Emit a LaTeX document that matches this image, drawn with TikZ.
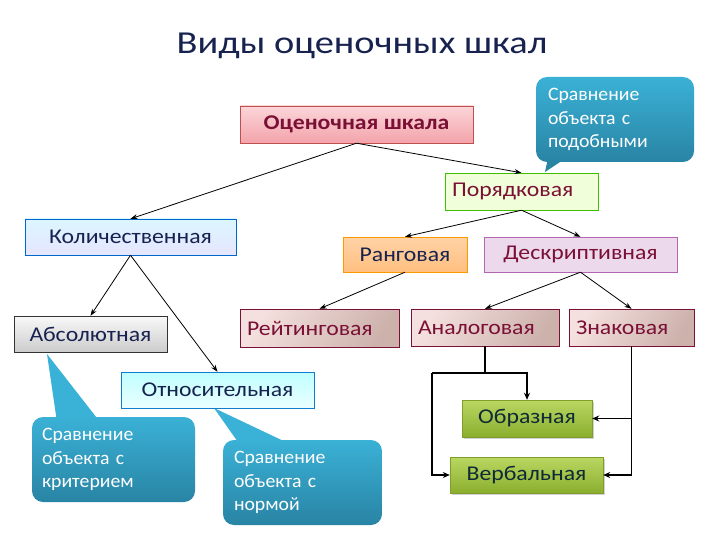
\documentclass[tikz,border=0pt]{standalone}
\usepackage{fontspec}
\setmainfont{Carlito}[FakeStretch=1.13]
\newfontfamily\titlefont{Carlito}[FakeStretch=1.2]
\newfontfamily\callfont{Carlito}[FakeStretch=1.04]
\usetikzlibrary{arrows.meta,shadows}
\definecolor{navy}{HTML}{17224F}
\definecolor{wine}{HTML}{7A1035}
\definecolor{tealA}{HTML}{3AB1D6}
\definecolor{tealB}{HTML}{2984A4}
\definecolor{pinkT}{HTML}{FBD6D9}
\definecolor{pinkB}{HTML}{F3A3AB}
\definecolor{pinkD}{HTML}{C0504D}
\definecolor{grnT}{HTML}{BAD762}
\definecolor{grnB}{HTML}{8AAE2E}
\definecolor{grnD}{HTML}{7E9E2C}
\definecolor{grnTx}{HTML}{0F2A36}
\definecolor{rosL}{HTML}{F4E0DE}
\definecolor{rosD}{HTML}{CDB2AC}
\begin{document}
\begin{tikzpicture}[x=1pt,y=-1pt,
  box/.style={draw, inner sep=0pt, font=\fontsize{21}{24}\selectfont, text=navy},
  lbox/.style={box, inner xsep=7pt, align=left},
  rosebox/.style={lbox, draw=wine, left color=rosL, right color=rosD, shading angle=60, text=wine},
  grnbox/.style={box, draw=grnD, top color=grnT, bottom color=grnB,
     drop shadow={shadow xshift=1.5pt, shadow yshift=-1.5pt, opacity=0.35}, text=grnTx},
  callout/.style={rounded corners=11pt, inner sep=0pt, align=left, text=white,
     font=\callfont\fontsize{19}{23.5}\selectfont, top color=tealA, bottom color=tealB, draw=none},
  conn/.style={draw=black, line width=0.8pt, -{Stealth[length=7pt,width=5pt]}},
  thk/.style={draw=black, line width=1.8pt, -{Stealth[length=7pt,width=6pt]}},
  thkl/.style={draw=black, line width=1.8pt}]
\useasboundingbox (0,0) rectangle (720,540);
\fill[white] (0,0) rectangle (720,540);
\node[text=navy, font=\titlefont\fontsize{32}{36}\selectfont] (title) at (362,46) {Виды оценочных шкал};

% pointers of callouts
\coordinate (t1) at (545,172);
\coordinate (t2) at (47,354);
\coordinate (t3) at (214,408);
\fill[tealB] (t1) -- (548,158) -- (566,158) -- cycle;
\fill[tealA] (t2) -- (57,422) -- (100,422) -- cycle;
\fill[tealA] (t3) -- (240,445) -- (292,445) -- cycle;

\node[callout, minimum width=158pt, minimum height=85pt, text width=134pt] (c1) at (615,119.5) {Сравнение\\объекта с\\подобными};
\node[callout, minimum width=163pt, minimum height=85pt, text width=143pt] (c2) at (113.5,459.5) {Сравнение\\объекта с\\критерием};
\node[callout, minimum width=159pt, minimum height=85pt, text width=137pt] (c3) at (302.5,482.5) {Сравнение\\объекта с\\нормой};

% boxes
\node[box, draw=pinkD, top color=pinkT, bottom color=pinkB, text=wine,
  minimum width=233pt, minimum height=37pt, font=\bfseries\fontsize{21}{24}\selectfont] (oc) at (356.5,124.5) {Оценочная шкала};
\node[lbox, draw=green!50!olive, fill=green!40!yellow!15, text=wine,
  text width=139pt, minimum height=37pt] (por) at (521.5,191.5) {Порядковая};
\node[box, draw=blue!50!cyan!80!black, top color=blue!25!cyan!14, bottom color=blue!10!white,
  minimum width=211pt, minimum height=36pt] (kol) at (130.5,237) {Количественная};
\node[box, draw=orange!80!yellow, top color=orange!35!white, bottom color=orange!50!white,
  minimum width=124pt, minimum height=35pt] (rang) at (405,254.5) {Ранговая};
\node[box, draw=violet!60, fill=violet!15, text=wine,
  minimum width=193pt, minimum height=35pt] (desk) at (580.5,254.5) {Дескриптивная};
\node[box, draw=black!80, top color=gray!5, bottom color=gray!40,
  minimum width=153pt, minimum height=36pt] (abs) at (90.5,334) {Абсолютная};
\node[rosebox, text width=145pt, minimum height=38pt] (reit) at (319.5,328) {Рейтинговая};
\node[rosebox, text width=134pt, minimum height=37pt] (anal) at (485,327.5) {Аналоговая};
\node[rosebox, text width=111pt, minimum height=37pt] (znak) at (631.5,327.5) {Знаковая};
\node[box, draw=cyan!60!blue, top color=cyan!25, bottom color=cyan!8,
  minimum width=193pt, minimum height=36pt] (otn) at (217.5,390) {Относительная};
\node[grnbox, minimum width=130pt, minimum height=37pt] (obr) at (527,418.5) {Образная};
\node[grnbox, minimum width=153pt, minimum height=36pt] (verb) at (526.5,475) {Вербальная};

% connectors
\draw[conn] (oc.south) -- (kol.north);
\draw[conn] (oc.south) -- (por.north);
\draw[conn] (por.south) -- (rang.north);
\draw[conn] (por.south) -- (desk.north);
\draw[conn] (kol.south) -- (abs.north);
\draw[conn] (kol.south) -- (otn.north);
\draw[conn] (rang.south) -- (reit.north);
\draw[conn] (desk.south) -- (anal.north);
\draw[conn] (desk.south) -- (znak.north);

\coordinate (aj) at (485,373);
\coordinate (al) at (432,373);
\draw[thkl] (anal.south) -- (aj);
\draw[thk] (al) -| (obr.north);
\draw[thk] (al) |- (verb.west);
\draw[thk] (znak.south) |- (verb.east);
\draw[thk] (znak.south |- obr.east) -- (obr.east);
\end{tikzpicture}
\end{document}
